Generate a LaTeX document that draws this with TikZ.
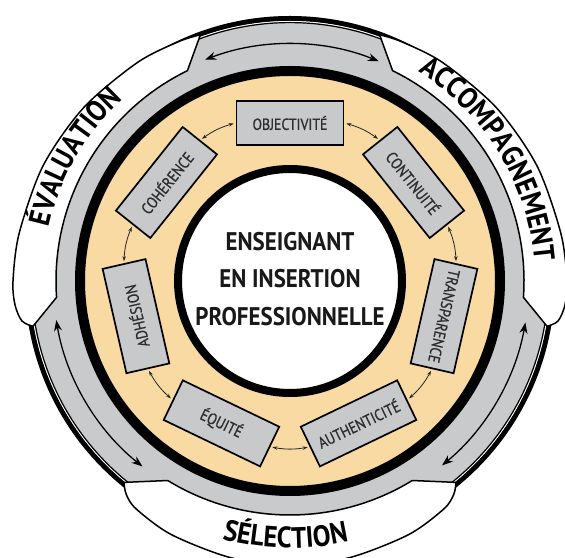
\documentclass[tikz,border=0pt]{standalone}
\usepackage{fontspec}
\setmainfont{PT Sans}
\newfontfamily\condfont{PT Sans}[FakeStretch=0.9]
\newfontfamily\tabfam{PT Sans}[FakeStretch=0.9]
\newfontfamily\boxfam{PT Sans}[FakeStretch=0.86,FakeBold=1]
\usetikzlibrary{arrows.meta,decorations.text}
\definecolor{ringgray}{HTML}{C9CACB}
\definecolor{peach}{HTML}{F8DAA2}
\definecolor{boxgray}{HTML}{C8C9CA}
\newcommand\tablabelfont{\tabfam\bfseries\fontsize{29.5}{29.5}\selectfont}
\begin{document}
\begin{tikzpicture}[x=1pt,y=1pt,
  ringarrow/.style={{Stealth[length=11pt,width=8pt]}-{Stealth[length=11pt,width=8pt]}, line width=1.3pt},
  tabshape/.style={draw=black, fill=white, line width=1.5pt, line join=round},
  box/.style={draw=black, line width=1.7pt, fill=boxgray, minimum width=107pt, minimum height=44pt,
    inner sep=0pt, font=\boxfam\fontsize{16}{16}\selectfont, text=black!82},
  link/.style={{Stealth[length=5pt,width=3.5pt]}-{Stealth[length=5pt,width=3.5pt]}, line width=0.8pt,
    draw=black!85, shorten >=2pt, shorten <=2pt}]
\useasboundingbox (0,0) rectangle (565,557);
\fill[white] (0,0) rectangle (565,557);
\begin{scope}[shift={(290,276)}]
  % gray band and its outer border
  \fill[ringgray] (0,0) circle[radius=265pt];
  \draw[line width=5pt] (0,0) circle[radius=262.5pt];
  \draw[white, line width=1pt] (0,0) circle[radius=259.5pt];
  \draw[line width=1.2pt] (0,0) circle[radius=258.4pt];
  % orange ring
  \draw[line width=10pt, fill=peach] (0,0) circle[radius=210pt];
  % inner circle
  \draw[line width=8pt, fill=white] (0,0) circle[radius=112pt];
  % ring arrows
  \draw[ringarrow] (111:237pt) arc[start angle=111, end angle=68, radius=237pt];
  \draw[ringarrow] (189.5:237pt) arc[start angle=189.5, end angle=231.5, radius=237pt];
  \draw[ringarrow] (309.5:239pt) arc[start angle=309.5, end angle=350, radius=239pt];
  % tabs
  \draw[tabshape] (116:234pt) -- plot[smooth] coordinates {(110:262pt) (115:264pt) (125:266.5pt) (140:269.5pt) (155:272.5pt) (170:275pt) (180:277pt) (185:276pt) (188.5:271pt) (190:261pt)} -- (184:234pt) arc[start angle=184, end angle=116, radius=234pt] -- cycle;
  \draw[tabshape] (64:234pt) -- plot[smooth] coordinates {(70:262pt) (65:264pt) (55:266.5pt) (40:269.5pt) (25:272.5pt) (10:275pt) (0:277pt) (-5:276pt) (-8.5:271pt) (-10:261pt)} -- (-4:234pt) arc[start angle=-4, end angle=64, radius=234pt] -- cycle;
  \draw[tabshape] (238.5:234pt) -- plot[smooth] coordinates {(230.5:261pt) (232.5:269pt) (236:275pt) (245:280pt) (258:283pt) (270:284pt) (282:283pt) (295:280pt) (304:275pt) (307.5:269pt) (309.5:261pt)} -- (301.5:234pt) arc[start angle=301.5, end angle=238.5, radius=234pt] -- cycle;
  % tab labels
  \path[decorate, decoration={text along path, text align=center, text={|\tablabelfont|ÉVALUATION}}]
    (190:247pt) arc[start angle=190, end angle=110, radius=247pt];
  \path[decorate, decoration={text along path, text align=center, text={|\tablabelfont|ACCOMPAGNEMENT}}]
    (72:245pt) arc[start angle=72, end angle=-9, radius=245pt];
  \path[decorate, decoration={text along path, text align=center, text={|\tablabelfont|SÉLECTION}}]
    (229:267pt) arc[start angle=229, end angle=309, radius=267pt];
  % boxes
  \node[box, rotate=0] (obj) at (90:158pt) {OBJECTIVITÉ};
  \node[box, rotate=-51.43] (cont) at (38.57:158pt) {CONTINUITÉ};
  \node[box, rotate=-102.86] (trans) at (-12.86:158pt) {TRANSPARENCE};
  \node[box, rotate=25.71] (auth) at (-64.29:158pt) {AUTHENTICITÉ};
  \node[box, rotate=-25.71] (equi) at (244.29:158pt) {ÉQUITÉ};
  \node[box, rotate=102.86] (adh) at (192.86:158pt) {ADHÉSION};
  \node[box, rotate=51.43] (coh) at (141.43:158pt) {COHÉRENCE};
  % links between boxes
  \draw[link] (obj.east) to[bend left=10] (cont.west);
  \draw[link] (cont.east) to[bend left=10] (trans.west);
  \draw[link] (trans.east) to[bend left=10] (auth.east);
  \draw[link] (auth.west) to[bend left=10] (equi.east);
  \draw[link] (equi.west) to[bend left=10] (adh.west);
  \draw[link] (adh.east) to[bend left=10] (coh.west);
  \draw[link] (coh.east) to[bend left=10] (obj.west);
  % centre
  \node[font=\condfont\bfseries\fontsize{25.5}{37.5}\selectfont, align=center, text=black!90] (core) at (0,2)
    {ENSEIGNANT\\EN INSERTION\\PROFESSIONNELLE};
\end{scope}
\end{tikzpicture}
\end{document}
